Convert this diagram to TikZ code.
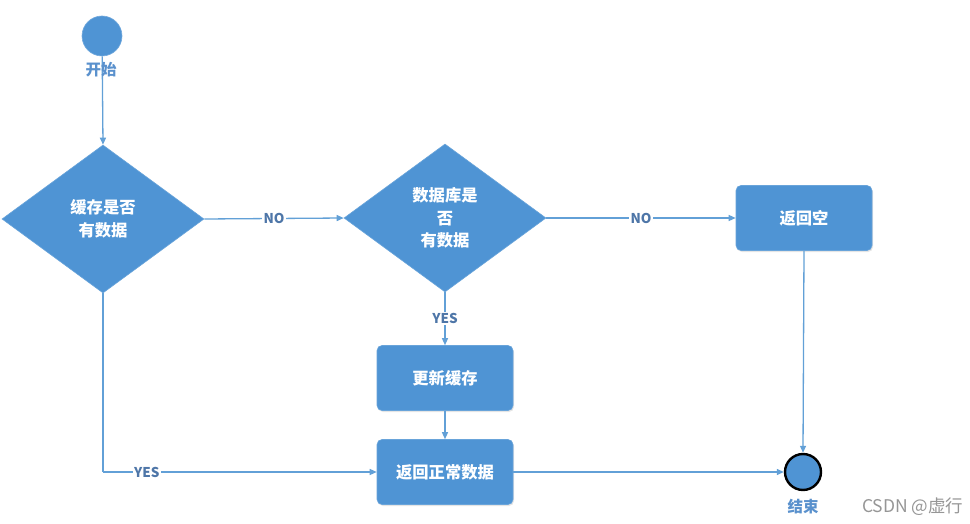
\documentclass[tikz,border=0pt]{standalone}
\usepackage{fontspec}
\setmainfont{Noto Sans CJK SC}
\usetikzlibrary{shapes.geometric,arrows.meta,shadows}
\definecolor{fillblue}{RGB}{79,148,212}
\definecolor{lineblue}{RGB}{98,160,215}
\definecolor{labelblue}{RGB}{78,118,168}
\definecolor{startblue}{RGB}{90,145,205}
\definecolor{wmgray}{RGB}{150,150,150}
\begin{document}
\begin{tikzpicture}[x=1pt,y=-1pt,
  dec/.style={diamond, fill=fillblue, draw=fillblue!85!white, line width=0.6pt, minimum width=202pt, minimum height=148pt, inner sep=0pt, aspect=1.36, text=white, align=center, font=\fontsize{16.3}{22.5}\selectfont\bfseries},
  procbox/.style={rectangle, rounded corners=5pt, fill=fillblue, draw=fillblue!85!white, line width=0.6pt, minimum width=136pt, minimum height=65pt, text=white, font=\fontsize{16.3}{22}\selectfont\bfseries, drop shadow={shadow xshift=1pt, shadow yshift=-1.5pt, opacity=0.2}},
  conn/.style={draw=lineblue, line width=1.3pt, -{Triangle[length=7pt,width=6pt]}},
  plain/.style={draw=lineblue, line width=1.3pt},
  lbl/.style={fill=white, text=labelblue, inner sep=1.5pt, font=\fontsize{13.5}{14}\selectfont\bfseries}
]
\useasboundingbox (0,0) rectangle (970,524);
\fill[white] (0,0) rectangle (970,524);

% nodes
\node[circle, fill=fillblue, draw=fillblue!80!white, line width=0.6pt, minimum size=40pt, inner sep=0pt] (start) at (102,36) {};
\node[dec] (d1) at (103,219) {缓存是否\\有数据};
\node[dec] (d2) at (445,218) {数据库是\\否\\有数据};
\node[procbox] (empty) at (804,218) {返回空};
\node[procbox] (update) at (445,378) {更新缓存};
\node[procbox] (ret) at (445,472) {返回正常数据};
\node[circle, fill=fillblue, draw=black, line width=2.4pt, minimum size=36pt, inner sep=0pt] (end) at (803,472) {};
\coordinate (corner) at (103,472);

% connectors
\draw[conn] (start) -- (d1.north);
\node[text=startblue, inner sep=0pt, font=\fontsize{15.5}{18}\selectfont\bfseries] (startlbl) at (101,70) {开始};
\draw[conn] (d1.east) -- node[lbl] (no1) {NO} (d2.west);
\draw[conn] (d2.east) -- node[lbl] (no2) {NO} (empty.west);
\draw[conn] (d2.south) -- node[lbl, pos=0.5] (yes1) {YES} (update.north);
\draw[conn] (update.south) -- (ret.north);
\draw[plain] (d1.south) -- (corner);
\draw[conn] (corner) -- node[lbl, pos=0.16] (yes2) {YES} (ret.west);
\draw[conn] (ret.east) -- (end.west);
\draw[conn] (empty.south) -- (end.north);

\node[text=startblue, font=\fontsize{15.5}{18}\selectfont\bfseries] (endlbl) at (803,507) {结束};
\node[text=wmgray, font=\fontsize{17.5}{20}\selectfont, anchor=east] (wm) at (967,507) {CSDN @虚行};
\end{tikzpicture}
\end{document}
